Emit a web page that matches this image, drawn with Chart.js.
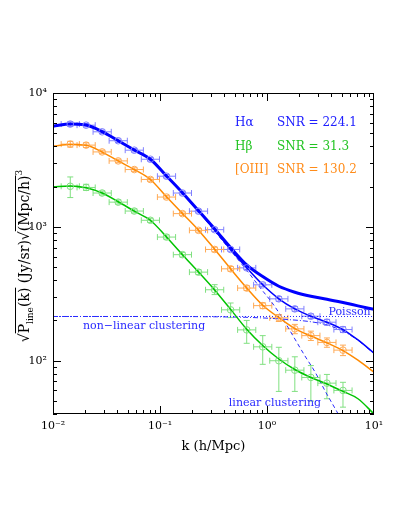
<!DOCTYPE html>
<html>
<head>
<meta charset="utf-8">
<script src="https://cdn.jsdelivr.net/npm/chart.js@4.4.1/dist/chart.umd.min.js"></script>
<style>
  html, body { margin: 0; padding: 0; background: #fff; }
  canvas { display: block; }
</style>
</head>
<body>
<canvas id="chart-pk" width="407" height="527"></canvas>
<script>
// measured bins (h/Mpc)
const kBins = [0.0145, 0.0204, 0.0288, 0.0407, 0.0575, 0.0813, 0.115, 0.162, 0.229, 0.324, 0.457, 0.646, 0.912, 1.29, 1.82, 2.57, 3.63, 5.13];
const kBinHalfDex = 0.085;

const haPoints = [5860, 5750, 5130, 4400, 3740, 3200, 2390, 1790, 1310, 953, 678, 494, 369, 290, 244, 215, 194, 171];
const haErr = [0.04, 0.03, 0.03, 0.03, 0.03, 0.03, 0.03, 0.03, 0.03, 0.03, 0.03, 0.03, 0.03, 0.04, 0.04, 0.04, 0.05, 0.05];
const oiiiPoints = [4150, 4080, 3630, 3110, 2680, 2260, 1670, 1256, 942, 678, 486, 349, 258, 209, 173, 154, 137, 120];
const oiiiErr = [0.05, 0.04, 0.03, 0.03, 0.03, 0.03, 0.03, 0.03, 0.03, 0.04, 0.04, 0.04, 0.05, 0.06, 0.08, 0.08, 0.08, 0.09];
const hbPoints = [2010, 1970, 1790, 1530, 1313, 1120, 839, 620, 459, 339, 240, 170, 127, 100, 85, 75, 68, 60];
const hbLow = [1655, 1870, 1730, 1480, 1270, 1080, 810, 595, 440, 312, 210, 135, 94, 59, 59, 50, 52, 45];
const hbHigh = [2360, 2080, 1850, 1590, 1360, 1160, 870, 645, 478, 370, 270, 200, 154, 126, 107, 92, 79, 69];

// model curves
const kModel = [0.01, 0.0145, 0.0204, 0.0288, 0.0407, 0.0575, 0.0813, 0.115, 0.162, 0.229, 0.324, 0.457, 0.646, 0.912, 1.29, 1.82, 2.57, 3.63, 5.13, 7.08, 10];
const haTotal = [5650, 5870, 5760, 5150, 4400, 3750, 3200, 2400, 1800, 1320, 965, 700, 520, 425, 360, 325, 303, 288, 272, 257, 242];
const haClust = [5650, 5870, 5760, 5130, 4400, 3740, 3200, 2390, 1790, 1310, 953, 678, 494, 369, 290, 244, 215, 194, 171, 143, 114];
const oiiiModel = [4010, 4130, 4070, 3620, 3110, 2680, 2260, 1680, 1260, 945, 680, 486, 350, 260, 210, 174, 153, 136, 119, 101, 82];
const hbModel = [1990, 2020, 1960, 1790, 1540, 1310, 1120, 840, 620, 460, 338, 242, 172, 130, 103, 86, 75, 67, 59, 52, 40];

const kLinear = [0.01, 0.0145, 0.0204, 0.0288, 0.0407, 0.0575, 0.0813, 0.115, 0.162, 0.229, 0.316, 0.447, 0.631, 0.891, 1.12, 1.41, 1.78, 2.24, 2.82, 3.55, 4.47, 5.62];
const haLinear = [5650, 5870, 5760, 5130, 4400, 3740, 3200, 2390, 1790, 1310, 950, 680, 485, 340, 270, 205, 150, 110, 82, 58, 42, 30];
const kOneHalo = [0.01, 0.1, 0.316, 0.631, 1, 1.58, 2.51, 3.55, 5.01, 7.08, 10];
const haOneHalo = [214, 214, 213, 211, 208, 203, 196, 186, 168, 142, 113];
const kPoisson = [0.01, 10];
const haPoisson = [214, 214];

const xTickValues = [0.01, 0.1, 1, 10];
const xTickLabels = ['10\u207B\u00B2', '10\u207B\u00B9', '10\u2070', '10\u00B9'];
const yTickValues = [100, 1000, 10000];
const yTickLabels = ['10\u00B2', '10\u00B3', '10\u2074'];

const BLUE = '#0000ff', LBLUE = '#2a2aff', PBLUE = '#8080ff';
const ORANGE = '#ff8a00', PORANGE = '#ffaa55';
const GREEN = '#00c400', PGREEN = '#80e080';
const SERIF = '"DejaVu Serif", "Liberation Serif", serif';

const toXY = (xs, ys) => xs.map((x, i) => ({ x, y: ys[i] }));

function curve(label, xs, ys, color, width, dash) {
    return {
        label, data: toXY(xs, ys), showLine: true, borderColor: color, borderWidth: width,
        borderDash: dash || [], pointRadius: 0, fill: false, cubicInterpolationMode: 'monotone'
    };
}
function marks(label, ys, color) {
    return {
        label, data: toXY(kBins, ys), showLine: false, pointRadius: 3.3, pointStyle: 'circle',
        borderColor: color, backgroundColor: 'rgba(0,0,0,0)', borderWidth: 1
    };
}

const errSets = [
    { color: PBLUE, val: haPoints, lo: haPoints.map((v, i) => v * (1 - haErr[i])), hi: haPoints.map((v, i) => v * (1 + haErr[i])) },
    { color: PORANGE, val: oiiiPoints, lo: oiiiPoints.map((v, i) => v * (1 - oiiiErr[i])), hi: oiiiPoints.map((v, i) => v * (1 + oiiiErr[i])) },
    { color: PGREEN, val: hbPoints, lo: hbLow, hi: hbHigh }
];

const errorBars = {
    id: 'errorBars',
    beforeDatasetsDraw(chart) {
        const { ctx, chartArea: a, scales: { x, y } } = chart;
        ctx.save();
        ctx.beginPath();
        ctx.rect(a.left, a.top, a.right - a.left, a.bottom - a.top);
        ctx.clip();
        ctx.lineWidth = 1;
        const f = Math.pow(10, kBinHalfDex);
        errSets.forEach(s => {
            ctx.strokeStyle = s.color;
            kBins.forEach((k, i) => {
                const px = x.getPixelForValue(k), py = y.getPixelForValue(s.val[i]);
                const x0 = x.getPixelForValue(k / f), x1 = x.getPixelForValue(k * f);
                const y0 = y.getPixelForValue(s.lo[i]), y1 = y.getPixelForValue(s.hi[i]);
                ctx.beginPath();
                ctx.moveTo(x0, py); ctx.lineTo(x1, py);
                ctx.moveTo(x0, py - 3); ctx.lineTo(x0, py + 3);
                ctx.moveTo(x1, py - 3); ctx.lineTo(x1, py + 3);
                ctx.moveTo(px, y0); ctx.lineTo(px, y1);
                ctx.moveTo(px - 3, y0); ctx.lineTo(px + 3, y0);
                ctx.moveTo(px - 3, y1); ctx.lineTo(px + 3, y1);
                ctx.stroke();
            });
        });
        ctx.restore();
    }
};

// box with inward ticks on all sides
const frame = {
    id: 'frame',
    afterDraw(chart) {
        const { ctx, chartArea: a, scales: { x, y } } = chart;
        ctx.save();
        ctx.strokeStyle = '#000';
        ctx.lineWidth = 1;
        ctx.strokeRect(a.left + 0.5, a.top + 0.5, a.right - a.left - 1, a.bottom - a.top - 1);
        ctx.beginPath();
        for (let d = -2; d < 1; d++) {
            for (let m = 1; m < 10; m++) {
                const v = m * Math.pow(10, d);
                const px = Math.round(x.getPixelForValue(v)) + 0.5;
                const len = m === 1 ? 8 : 4;
                ctx.moveTo(px, a.bottom); ctx.lineTo(px, a.bottom - len);
                ctx.moveTo(px, a.top); ctx.lineTo(px, a.top + len);
            }
        }
        for (let d = 1; d < 4; d++) {
            for (let m = 1; m < 10; m++) {
                const v = m * Math.pow(10, d);
                if (v < y.min) continue;
                const py = Math.round(y.getPixelForValue(v)) + 0.5;
                const len = m === 1 ? 8 : 4;
                ctx.moveTo(a.left, py); ctx.lineTo(a.left + len, py);
                ctx.moveTo(a.right, py); ctx.lineTo(a.right - len, py);
            }
        }
        ctx.stroke();
        ctx.restore();
    }
};

const labels = {
    id: 'labels',
    afterDraw(chart) {
        const { ctx, chartArea: a, scales: { x, y } } = chart;
        ctx.save();
        ctx.textBaseline = 'middle';

        // legend
        ctx.font = '12px ' + SERIF;
        const legend = [
            ['H\u03B1', 'SNR = 224.1', '#2020ff', 123],
            ['H\u03B2', 'SNR = 31.3', '#22c422', 147],
            ['[OIII]', 'SNR = 130.2', '#ff8c1a', 170]
        ];
        legend.forEach(([name, snr, col, py]) => {
            ctx.fillStyle = col;
            ctx.textAlign = 'left';
            ctx.fillText(name, 235, py);
            ctx.fillText(snr, 277, py);
        });

        // line labels
        ctx.fillStyle = LBLUE;
        ctx.font = '11px ' + SERIF;
        ctx.textAlign = 'center';
        ctx.fillText('non\u2212linear clustering', x.getPixelForValue(0.071), y.getPixelForValue(180));
        ctx.textAlign = 'left';
        ctx.fillText('linear clustering', x.getPixelForValue(0.44), y.getPixelForValue(48));
        ctx.textAlign = 'right';
        ctx.fillText('Poisson', x.getPixelForValue(9.3), y.getPixelForValue(230));

        // x title
        ctx.fillStyle = '#000';
        ctx.textAlign = 'center';
        ctx.font = '13px ' + SERIF;
        ctx.fillText('k (h/Mpc)', (a.left + a.right) / 2, 447);

        // y title, rotated, with subscript and radicals
        ctx.translate(29, 256);
        ctx.rotate(-Math.PI / 2);
        ctx.textAlign = 'left';
        ctx.textBaseline = 'alphabetic';
        const big = '14px ' + SERIF, small = '9px ' + SERIF;
        const parts = [
            { t: '\u221A', f: big, dy: 0 },
            { t: 'P', f: big, dy: 0, over: 1 },
            { t: 'line', f: small, dy: 4, over: 1 },
            { t: '(k)', f: big, dy: 0, over: 1 },
            { t: ' (Jy/sr)', f: big, dy: 0 },
            { t: '\u221A', f: big, dy: 0 },
            { t: '(Mpc/h)', f: big, dy: 0, over: 2 },
            { t: '3', f: small, dy: -7 }
        ];
        let total = 0;
        parts.forEach(p => { ctx.font = p.f; p.w = ctx.measureText(p.t).width; total += p.w; });
        let cx = -total / 2;
        const bars = {};
        parts.forEach(p => {
            ctx.font = p.f;
            ctx.fillText(p.t, cx, p.dy);
            if (p.over) {
                bars[p.over] = bars[p.over] || [cx, cx];
                bars[p.over][1] = cx + p.w;
            }
            cx += p.w;
        });
        ctx.strokeStyle = '#000';
        ctx.lineWidth = 1;
        Object.values(bars).forEach(([b0, b1]) => {
            ctx.beginPath();
            ctx.moveTo(b0, -13.5); ctx.lineTo(b1, -13.5);
            ctx.stroke();
        });
        ctx.restore();
    }
};

const ctx = document.getElementById('chart-pk');
new Chart(ctx, {
    type: 'scatter',
    data: {
        datasets: [
            marks('H\u03B1 data', haPoints, PBLUE),
            marks('[OIII] data', oiiiPoints, PORANGE),
            marks('H\u03B2 data', hbPoints, PGREEN),
            curve('H\u03B1 total', kModel, haTotal, BLUE, 3),
            curve('H\u03B1 clustering', kModel, haClust, BLUE, 1.5),
            curve('[OIII]', kModel, oiiiModel, ORANGE, 1.5),
            curve('H\u03B2', kModel, hbModel, GREEN, 1.5),
            curve('linear clustering', kLinear, haLinear, LBLUE, 1, [4, 3]),
            curve('non-linear clustering', kOneHalo, haOneHalo, LBLUE, 1, [5, 2, 1, 2]),
            curve('Poisson', kPoisson, haPoisson, LBLUE, 1, [1, 2])
        ]
    },
    options: {
        responsive: false,
        animation: false,
        devicePixelRatio: 1,
        layout: { padding: { left: 0, top: 93, right: 33, bottom: 73 } },
        plugins: { legend: { display: false }, tooltip: { enabled: false } },
        scales: {
            x: {
                type: 'logarithmic', min: 0.01, max: 10,
                grid: { display: false, drawTicks: false }, border: { display: false },
                afterFit: s => { s.height = 40; },
                afterBuildTicks: s => { s.ticks = xTickValues.map(v => ({ value: v })); },
                ticks: {
                    autoSkip: false, maxRotation: 0, padding: 6, color: '#000',
                    font: { family: SERIF, size: 11 },
                    callback: v => xTickLabels[xTickValues.indexOf(v)]
                }
            },
            y: {
                type: 'logarithmic', min: 40, max: 10000,
                grid: { display: false, drawTicks: false }, border: { display: false },
                afterFit: s => { s.width = 53; },
                afterBuildTicks: s => { s.ticks = yTickValues.map(v => ({ value: v })); },
                ticks: {
                    autoSkip: false, padding: 6, color: '#000',
                    font: { family: SERIF, size: 11 },
                    callback: v => yTickLabels[yTickValues.indexOf(v)]
                }
            }
        }
    },
    plugins: [errorBars, frame, labels]
});
</script>
</body>
</html>
